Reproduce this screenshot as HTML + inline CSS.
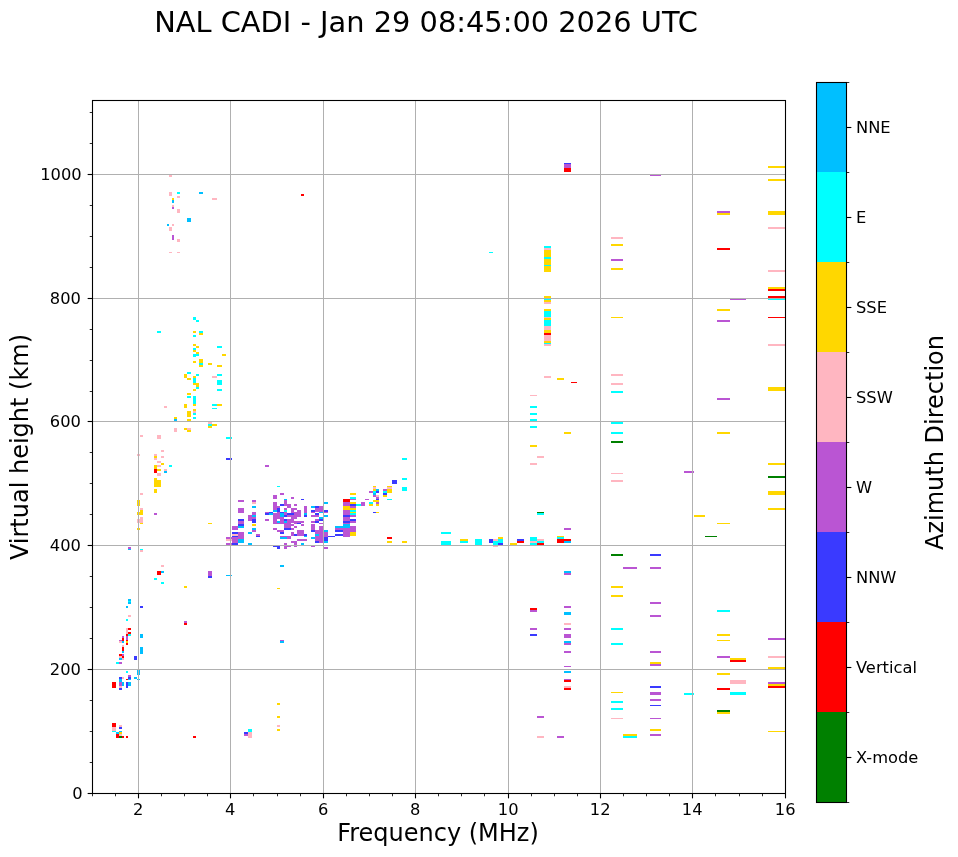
<!DOCTYPE html>
<html lang="en"><head><meta charset="utf-8"><title>NAL CADI ionogram</title>
<style>html,body{margin:0;padding:0;background:#fff}body{width:958px;height:857px;overflow:hidden}svg{display:block}text{font-family:"DejaVu Sans","Liberation Sans",sans-serif;fill:#000}</style></head><body>
<svg width="958" height="857" viewBox="0 0 958 857">
<rect width="958" height="857" fill="#fff"/>
<g shape-rendering="crispEdges">
<g fill="#ffb6c1">
<rect x="169" y="175" width="3" height="2"/>
<rect x="169" y="192" width="3" height="4"/>
<rect x="177" y="196" width="3" height="2"/>
<rect x="212" y="198" width="5" height="2"/>
<rect x="172" y="205" width="2" height="2"/>
<rect x="177" y="209" width="3" height="4"/>
<rect x="172" y="224" width="2" height="2"/>
<rect x="169" y="227" width="3" height="4"/>
<rect x="177" y="239" width="3" height="3"/>
<rect x="169" y="252" width="3" height="1"/>
<rect x="177" y="252" width="3" height="1"/>
<rect x="212" y="376" width="5" height="2"/>
<rect x="164" y="406" width="3" height="2"/>
<rect x="193" y="411" width="3" height="2"/>
<rect x="208" y="422" width="4" height="2"/>
<rect x="174" y="428" width="3" height="4"/>
<rect x="187" y="428" width="4" height="2"/>
<rect x="140" y="435" width="3" height="2"/>
<rect x="157" y="435" width="4" height="4"/>
<rect x="161" y="450" width="3" height="2"/>
<rect x="137" y="454" width="3" height="2"/>
<rect x="154" y="454" width="3" height="2"/>
<rect x="154" y="458" width="3" height="2"/>
<rect x="161" y="456" width="3" height="2"/>
<rect x="157" y="461" width="4" height="2"/>
<rect x="157" y="465" width="4" height="2"/>
<rect x="164" y="469" width="3" height="2"/>
<rect x="157" y="473" width="4" height="3"/>
<rect x="140" y="493" width="3" height="2"/>
<rect x="140" y="508" width="3" height="2"/>
<rect x="140" y="517" width="3" height="6"/>
<rect x="137" y="519" width="3" height="4"/>
<rect x="140" y="550" width="3" height="2"/>
<rect x="161" y="565" width="3" height="2"/>
<rect x="128" y="615" width="3" height="2"/>
<rect x="126" y="628" width="2" height="6"/>
<rect x="119" y="641" width="3" height="2"/>
<rect x="122" y="645" width="2" height="2"/>
<rect x="119" y="656" width="3" height="2"/>
<rect x="122" y="658" width="2" height="2"/>
<rect x="122" y="677" width="2" height="2"/>
<rect x="119" y="686" width="3" height="2"/>
<rect x="112" y="727" width="4" height="4"/>
<rect x="119" y="725" width="3" height="2"/>
<rect x="119" y="734" width="3" height="2"/>
<rect x="226" y="539" width="6" height="2"/>
<rect x="232" y="534" width="6" height="2"/>
<rect x="252" y="502" width="4" height="2"/>
<rect x="373" y="487" width="3" height="2"/>
<rect x="376" y="495" width="3" height="2"/>
<rect x="387" y="487" width="5" height="2"/>
<rect x="493" y="539" width="5" height="2"/>
<rect x="493" y="546" width="5" height="1"/>
<rect x="530" y="541" width="7" height="2"/>
<rect x="537" y="539" width="7" height="2"/>
<rect x="544" y="248" width="7" height="2"/>
<rect x="544" y="302" width="7" height="2"/>
<rect x="544" y="317" width="7" height="1"/>
<rect x="544" y="326" width="7" height="4"/>
<rect x="544" y="335" width="7" height="6"/>
<rect x="544" y="344" width="7" height="2"/>
<rect x="544" y="376" width="7" height="2"/>
<rect x="530" y="395" width="7" height="1"/>
<rect x="537" y="456" width="7" height="2"/>
<rect x="530" y="463" width="7" height="2"/>
<rect x="611" y="237" width="12" height="2"/>
<rect x="611" y="374" width="12" height="2"/>
<rect x="611" y="383" width="12" height="2"/>
<rect x="611" y="473" width="12" height="1"/>
<rect x="611" y="480" width="12" height="2"/>
<rect x="611" y="718" width="12" height="1"/>
<rect x="564" y="623" width="7" height="2"/>
<rect x="564" y="686" width="7" height="2"/>
<rect x="537" y="736" width="7" height="2"/>
<rect x="768" y="227" width="17" height="2"/>
<rect x="768" y="270" width="17" height="2"/>
<rect x="768" y="344" width="17" height="2"/>
<rect x="768" y="656" width="17" height="2"/>
<rect x="730" y="680" width="16" height="4"/>
<rect x="277" y="725" width="3" height="2"/>
<rect x="248" y="732" width="4" height="6"/>
</g>
<g fill="#00ffff">
<rect x="177" y="192" width="3" height="2"/>
<rect x="193" y="317" width="3" height="3"/>
<rect x="196" y="320" width="3" height="2"/>
<rect x="157" y="331" width="4" height="2"/>
<rect x="199" y="331" width="4" height="2"/>
<rect x="193" y="335" width="3" height="2"/>
<rect x="217" y="346" width="5" height="2"/>
<rect x="193" y="348" width="3" height="2"/>
<rect x="193" y="354" width="6" height="2"/>
<rect x="193" y="356" width="3" height="1"/>
<rect x="199" y="363" width="4" height="2"/>
<rect x="187" y="372" width="4" height="2"/>
<rect x="196" y="374" width="3" height="2"/>
<rect x="193" y="378" width="3" height="5"/>
<rect x="196" y="387" width="3" height="2"/>
<rect x="217" y="374" width="5" height="2"/>
<rect x="217" y="380" width="5" height="5"/>
<rect x="217" y="389" width="5" height="2"/>
<rect x="187" y="396" width="4" height="2"/>
<rect x="193" y="396" width="3" height="8"/>
<rect x="212" y="404" width="5" height="2"/>
<rect x="212" y="408" width="5" height="1"/>
<rect x="193" y="413" width="3" height="2"/>
<rect x="193" y="417" width="3" height="2"/>
<rect x="208" y="424" width="4" height="2"/>
<rect x="226" y="437" width="6" height="2"/>
<rect x="169" y="465" width="3" height="2"/>
<rect x="140" y="549" width="3" height="1"/>
<rect x="154" y="578" width="3" height="2"/>
<rect x="161" y="582" width="3" height="2"/>
<rect x="128" y="601" width="3" height="1"/>
<rect x="126" y="619" width="2" height="2"/>
<rect x="128" y="634" width="3" height="2"/>
<rect x="116" y="662" width="3" height="2"/>
<rect x="126" y="671" width="2" height="2"/>
<rect x="112" y="731" width="4" height="1"/>
<rect x="277" y="486" width="3" height="1"/>
<rect x="284" y="510" width="3" height="2"/>
<rect x="350" y="497" width="6" height="2"/>
<rect x="350" y="510" width="6" height="2"/>
<rect x="350" y="513" width="6" height="2"/>
<rect x="356" y="504" width="5" height="2"/>
<rect x="369" y="502" width="4" height="2"/>
<rect x="373" y="491" width="3" height="2"/>
<rect x="383" y="491" width="4" height="2"/>
<rect x="387" y="499" width="5" height="1"/>
<rect x="402" y="478" width="5" height="2"/>
<rect x="402" y="487" width="5" height="4"/>
<rect x="441" y="532" width="10" height="2"/>
<rect x="441" y="541" width="10" height="4"/>
<rect x="460" y="541" width="8" height="2"/>
<rect x="475" y="539" width="7" height="6"/>
<rect x="493" y="541" width="5" height="4"/>
<rect x="498" y="539" width="5" height="4"/>
<rect x="530" y="537" width="7" height="4"/>
<rect x="530" y="543" width="7" height="2"/>
<rect x="537" y="513" width="7" height="2"/>
<rect x="537" y="541" width="7" height="2"/>
<rect x="557" y="537" width="7" height="2"/>
<rect x="544" y="246" width="7" height="2"/>
<rect x="544" y="257" width="7" height="2"/>
<rect x="544" y="265" width="7" height="1"/>
<rect x="544" y="299" width="7" height="1"/>
<rect x="544" y="311" width="7" height="6"/>
<rect x="544" y="320" width="7" height="6"/>
<rect x="544" y="343" width="7" height="1"/>
<rect x="530" y="406" width="7" height="2"/>
<rect x="530" y="413" width="7" height="2"/>
<rect x="530" y="419" width="7" height="2"/>
<rect x="530" y="426" width="7" height="2"/>
<rect x="611" y="391" width="12" height="2"/>
<rect x="611" y="422" width="12" height="2"/>
<rect x="611" y="432" width="12" height="2"/>
<rect x="611" y="628" width="12" height="2"/>
<rect x="611" y="643" width="12" height="2"/>
<rect x="611" y="701" width="12" height="2"/>
<rect x="611" y="708" width="12" height="2"/>
<rect x="489" y="252" width="4" height="1"/>
<rect x="768" y="299" width="17" height="1"/>
<rect x="717" y="610" width="13" height="2"/>
<rect x="623" y="736" width="14" height="2"/>
<rect x="684" y="693" width="10" height="2"/>
<rect x="730" y="692" width="16" height="3"/>
<rect x="248" y="729" width="4" height="3"/>
<rect x="402" y="458" width="5" height="2"/>
</g>
<g fill="#00bfff">
<rect x="199" y="192" width="4" height="2"/>
<rect x="172" y="200" width="2" height="3"/>
<rect x="187" y="218" width="4" height="4"/>
<rect x="167" y="224" width="2" height="2"/>
<rect x="174" y="419" width="3" height="2"/>
<rect x="164" y="471" width="3" height="2"/>
<rect x="128" y="549" width="3" height="1"/>
<rect x="161" y="571" width="3" height="2"/>
<rect x="128" y="599" width="3" height="2"/>
<rect x="128" y="602" width="3" height="2"/>
<rect x="126" y="606" width="2" height="2"/>
<rect x="122" y="641" width="2" height="2"/>
<rect x="122" y="651" width="2" height="2"/>
<rect x="140" y="634" width="3" height="4"/>
<rect x="140" y="647" width="3" height="7"/>
<rect x="119" y="658" width="3" height="2"/>
<rect x="137" y="670" width="3" height="5"/>
<rect x="128" y="679" width="3" height="1"/>
<rect x="134" y="677" width="3" height="2"/>
<rect x="137" y="679" width="3" height="1"/>
<rect x="119" y="679" width="3" height="3"/>
<rect x="122" y="682" width="2" height="4"/>
<rect x="128" y="682" width="3" height="4"/>
<rect x="116" y="732" width="3" height="2"/>
<rect x="119" y="731" width="3" height="1"/>
<rect x="226" y="575" width="6" height="1"/>
<rect x="238" y="526" width="6" height="2"/>
<rect x="238" y="539" width="6" height="4"/>
<rect x="248" y="532" width="4" height="2"/>
<rect x="248" y="543" width="4" height="2"/>
<rect x="252" y="506" width="4" height="2"/>
<rect x="252" y="515" width="4" height="2"/>
<rect x="252" y="528" width="4" height="2"/>
<rect x="269" y="513" width="4" height="2"/>
<rect x="273" y="510" width="4" height="2"/>
<rect x="277" y="521" width="3" height="2"/>
<rect x="280" y="513" width="4" height="4"/>
<rect x="280" y="537" width="7" height="2"/>
<rect x="284" y="499" width="3" height="1"/>
<rect x="284" y="521" width="3" height="2"/>
<rect x="301" y="543" width="3" height="2"/>
<rect x="304" y="513" width="3" height="2"/>
<rect x="304" y="536" width="3" height="1"/>
<rect x="311" y="506" width="4" height="2"/>
<rect x="311" y="537" width="4" height="2"/>
<rect x="315" y="534" width="4" height="2"/>
<rect x="319" y="512" width="4" height="1"/>
<rect x="319" y="517" width="4" height="2"/>
<rect x="323" y="502" width="5" height="2"/>
<rect x="323" y="515" width="5" height="2"/>
<rect x="323" y="530" width="5" height="2"/>
<rect x="323" y="541" width="5" height="2"/>
<rect x="280" y="565" width="4" height="2"/>
<rect x="335" y="526" width="8" height="2"/>
<rect x="343" y="524" width="7" height="4"/>
<rect x="373" y="493" width="3" height="2"/>
<rect x="376" y="489" width="3" height="2"/>
<rect x="564" y="541" width="7" height="2"/>
<rect x="564" y="571" width="7" height="2"/>
<rect x="564" y="612" width="7" height="3"/>
<rect x="564" y="641" width="7" height="2"/>
<rect x="564" y="671" width="7" height="2"/>
<rect x="280" y="641" width="4" height="2"/>
</g>
<g fill="#ffd700">
<rect x="172" y="198" width="2" height="2"/>
<rect x="193" y="331" width="3" height="2"/>
<rect x="199" y="333" width="4" height="2"/>
<rect x="193" y="344" width="3" height="2"/>
<rect x="196" y="346" width="3" height="2"/>
<rect x="193" y="350" width="3" height="2"/>
<rect x="196" y="352" width="3" height="2"/>
<rect x="222" y="354" width="4" height="2"/>
<rect x="193" y="361" width="3" height="2"/>
<rect x="199" y="359" width="4" height="4"/>
<rect x="199" y="365" width="4" height="2"/>
<rect x="208" y="363" width="4" height="2"/>
<rect x="217" y="365" width="5" height="2"/>
<rect x="184" y="374" width="3" height="4"/>
<rect x="187" y="378" width="4" height="2"/>
<rect x="193" y="376" width="3" height="2"/>
<rect x="193" y="383" width="3" height="2"/>
<rect x="196" y="383" width="3" height="4"/>
<rect x="193" y="389" width="3" height="2"/>
<rect x="187" y="393" width="4" height="2"/>
<rect x="193" y="404" width="3" height="2"/>
<rect x="184" y="404" width="3" height="4"/>
<rect x="217" y="404" width="5" height="2"/>
<rect x="193" y="409" width="3" height="2"/>
<rect x="187" y="411" width="4" height="6"/>
<rect x="174" y="417" width="3" height="2"/>
<rect x="187" y="419" width="4" height="2"/>
<rect x="212" y="424" width="5" height="2"/>
<rect x="208" y="426" width="4" height="2"/>
<rect x="184" y="428" width="3" height="2"/>
<rect x="187" y="430" width="4" height="2"/>
<rect x="154" y="456" width="3" height="2"/>
<rect x="161" y="463" width="3" height="2"/>
<rect x="154" y="465" width="3" height="4"/>
<rect x="157" y="469" width="4" height="2"/>
<rect x="154" y="478" width="3" height="9"/>
<rect x="157" y="480" width="4" height="7"/>
<rect x="154" y="489" width="3" height="4"/>
<rect x="137" y="500" width="3" height="6"/>
<rect x="140" y="510" width="3" height="5"/>
<rect x="137" y="512" width="3" height="3"/>
<rect x="140" y="523" width="3" height="1"/>
<rect x="208" y="523" width="4" height="1"/>
<rect x="137" y="528" width="3" height="2"/>
<rect x="184" y="586" width="3" height="2"/>
<rect x="126" y="641" width="2" height="2"/>
<rect x="119" y="732" width="3" height="2"/>
<rect x="252" y="524" width="4" height="2"/>
<rect x="343" y="506" width="7" height="4"/>
<rect x="350" y="493" width="6" height="2"/>
<rect x="350" y="502" width="6" height="2"/>
<rect x="350" y="508" width="6" height="2"/>
<rect x="350" y="512" width="6" height="1"/>
<rect x="350" y="532" width="6" height="4"/>
<rect x="369" y="504" width="4" height="2"/>
<rect x="373" y="486" width="3" height="1"/>
<rect x="373" y="489" width="3" height="2"/>
<rect x="373" y="500" width="6" height="2"/>
<rect x="376" y="504" width="3" height="2"/>
<rect x="376" y="512" width="3" height="1"/>
<rect x="383" y="495" width="4" height="2"/>
<rect x="387" y="486" width="5" height="1"/>
<rect x="387" y="489" width="5" height="4"/>
<rect x="387" y="541" width="5" height="2"/>
<rect x="402" y="541" width="5" height="2"/>
<rect x="460" y="539" width="8" height="2"/>
<rect x="498" y="537" width="5" height="2"/>
<rect x="510" y="543" width="7" height="2"/>
<rect x="557" y="536" width="7" height="1"/>
<rect x="611" y="586" width="12" height="2"/>
<rect x="611" y="595" width="12" height="2"/>
<rect x="544" y="250" width="7" height="7"/>
<rect x="544" y="259" width="7" height="6"/>
<rect x="544" y="266" width="7" height="6"/>
<rect x="544" y="296" width="7" height="2"/>
<rect x="544" y="300" width="7" height="2"/>
<rect x="544" y="309" width="7" height="2"/>
<rect x="544" y="318" width="7" height="2"/>
<rect x="544" y="330" width="7" height="3"/>
<rect x="544" y="341" width="7" height="2"/>
<rect x="557" y="378" width="7" height="2"/>
<rect x="564" y="432" width="7" height="2"/>
<rect x="530" y="445" width="7" height="2"/>
<rect x="611" y="244" width="12" height="2"/>
<rect x="611" y="268" width="12" height="2"/>
<rect x="611" y="317" width="12" height="1"/>
<rect x="611" y="692" width="12" height="1"/>
<rect x="717" y="213" width="13" height="2"/>
<rect x="768" y="166" width="17" height="2"/>
<rect x="768" y="179" width="17" height="2"/>
<rect x="768" y="211" width="17" height="4"/>
<rect x="717" y="309" width="13" height="2"/>
<rect x="768" y="287" width="17" height="2"/>
<rect x="717" y="432" width="13" height="2"/>
<rect x="694" y="515" width="11" height="2"/>
<rect x="768" y="387" width="17" height="4"/>
<rect x="768" y="463" width="17" height="2"/>
<rect x="768" y="491" width="17" height="4"/>
<rect x="768" y="508" width="17" height="2"/>
<rect x="717" y="523" width="13" height="1"/>
<rect x="650" y="662" width="11" height="2"/>
<rect x="717" y="634" width="13" height="2"/>
<rect x="717" y="640" width="13" height="1"/>
<rect x="730" y="658" width="16" height="2"/>
<rect x="650" y="729" width="11" height="2"/>
<rect x="623" y="734" width="14" height="2"/>
<rect x="717" y="673" width="13" height="2"/>
<rect x="717" y="712" width="13" height="2"/>
<rect x="768" y="667" width="17" height="2"/>
<rect x="768" y="684" width="17" height="2"/>
<rect x="768" y="731" width="17" height="1"/>
<rect x="277" y="588" width="3" height="1"/>
<rect x="277" y="703" width="3" height="2"/>
<rect x="277" y="716" width="3" height="2"/>
<rect x="277" y="729" width="3" height="2"/>
</g>
<g fill="#ba55d3">
<rect x="172" y="207" width="2" height="2"/>
<rect x="172" y="235" width="2" height="5"/>
<rect x="238" y="500" width="6" height="2"/>
<rect x="154" y="513" width="3" height="2"/>
<rect x="128" y="547" width="3" height="2"/>
<rect x="208" y="571" width="4" height="5"/>
<rect x="184" y="621" width="3" height="2"/>
<rect x="122" y="636" width="2" height="2"/>
<rect x="126" y="636" width="2" height="4"/>
<rect x="119" y="640" width="3" height="1"/>
<rect x="122" y="654" width="2" height="2"/>
<rect x="119" y="662" width="3" height="2"/>
<rect x="128" y="675" width="3" height="2"/>
<rect x="119" y="682" width="3" height="4"/>
<rect x="226" y="537" width="6" height="2"/>
<rect x="226" y="543" width="6" height="2"/>
<rect x="232" y="526" width="6" height="4"/>
<rect x="232" y="537" width="6" height="6"/>
<rect x="238" y="508" width="6" height="5"/>
<rect x="238" y="521" width="6" height="3"/>
<rect x="238" y="532" width="6" height="7"/>
<rect x="248" y="515" width="4" height="6"/>
<rect x="252" y="500" width="4" height="2"/>
<rect x="252" y="512" width="4" height="3"/>
<rect x="252" y="517" width="4" height="2"/>
<rect x="252" y="530" width="4" height="2"/>
<rect x="256" y="534" width="4" height="2"/>
<rect x="265" y="512" width="4" height="1"/>
<rect x="265" y="519" width="4" height="2"/>
<rect x="273" y="495" width="4" height="4"/>
<rect x="273" y="502" width="4" height="8"/>
<rect x="273" y="513" width="4" height="11"/>
<rect x="273" y="528" width="4" height="2"/>
<rect x="277" y="506" width="3" height="2"/>
<rect x="277" y="512" width="3" height="7"/>
<rect x="277" y="523" width="3" height="1"/>
<rect x="277" y="530" width="7" height="2"/>
<rect x="280" y="493" width="4" height="2"/>
<rect x="280" y="517" width="4" height="7"/>
<rect x="280" y="536" width="11" height="1"/>
<rect x="284" y="500" width="3" height="6"/>
<rect x="284" y="508" width="3" height="2"/>
<rect x="284" y="512" width="3" height="3"/>
<rect x="284" y="523" width="3" height="5"/>
<rect x="284" y="543" width="3" height="6"/>
<rect x="287" y="504" width="4" height="4"/>
<rect x="287" y="515" width="4" height="2"/>
<rect x="287" y="519" width="4" height="9"/>
<rect x="287" y="536" width="4" height="3"/>
<rect x="291" y="497" width="3" height="2"/>
<rect x="291" y="508" width="3" height="5"/>
<rect x="291" y="515" width="3" height="8"/>
<rect x="291" y="524" width="3" height="2"/>
<rect x="291" y="528" width="3" height="2"/>
<rect x="291" y="532" width="3" height="4"/>
<rect x="291" y="541" width="6" height="2"/>
<rect x="294" y="504" width="3" height="2"/>
<rect x="294" y="508" width="3" height="2"/>
<rect x="294" y="512" width="3" height="7"/>
<rect x="294" y="521" width="10" height="2"/>
<rect x="294" y="523" width="3" height="1"/>
<rect x="294" y="526" width="3" height="2"/>
<rect x="294" y="541" width="3" height="6"/>
<rect x="297" y="510" width="4" height="7"/>
<rect x="297" y="530" width="7" height="6"/>
<rect x="297" y="539" width="10" height="2"/>
<rect x="301" y="524" width="3" height="2"/>
<rect x="304" y="506" width="3" height="7"/>
<rect x="311" y="512" width="4" height="1"/>
<rect x="311" y="515" width="8" height="2"/>
<rect x="311" y="521" width="4" height="2"/>
<rect x="311" y="524" width="4" height="6"/>
<rect x="315" y="508" width="8" height="4"/>
<rect x="315" y="519" width="4" height="2"/>
<rect x="315" y="530" width="4" height="4"/>
<rect x="315" y="536" width="4" height="5"/>
<rect x="319" y="506" width="4" height="6"/>
<rect x="319" y="523" width="4" height="1"/>
<rect x="319" y="526" width="4" height="17"/>
<rect x="323" y="512" width="5" height="1"/>
<rect x="323" y="532" width="5" height="5"/>
<rect x="287" y="546" width="4" height="1"/>
<rect x="311" y="546" width="4" height="1"/>
<rect x="324" y="547" width="4" height="2"/>
<rect x="335" y="528" width="8" height="2"/>
<rect x="343" y="502" width="7" height="4"/>
<rect x="343" y="510" width="7" height="5"/>
<rect x="343" y="517" width="7" height="4"/>
<rect x="343" y="523" width="7" height="1"/>
<rect x="343" y="528" width="7" height="9"/>
<rect x="350" y="499" width="6" height="1"/>
<rect x="350" y="506" width="6" height="2"/>
<rect x="350" y="515" width="6" height="2"/>
<rect x="350" y="521" width="6" height="2"/>
<rect x="350" y="526" width="6" height="6"/>
<rect x="361" y="502" width="4" height="4"/>
<rect x="365" y="499" width="4" height="1"/>
<rect x="369" y="491" width="4" height="2"/>
<rect x="373" y="495" width="3" height="2"/>
<rect x="376" y="497" width="3" height="2"/>
<rect x="376" y="502" width="3" height="2"/>
<rect x="383" y="489" width="4" height="2"/>
<rect x="564" y="528" width="7" height="2"/>
<rect x="564" y="573" width="7" height="2"/>
<rect x="623" y="567" width="14" height="2"/>
<rect x="611" y="259" width="12" height="2"/>
<rect x="530" y="610" width="7" height="2"/>
<rect x="530" y="628" width="7" height="2"/>
<rect x="564" y="606" width="7" height="2"/>
<rect x="564" y="628" width="7" height="2"/>
<rect x="564" y="634" width="7" height="4"/>
<rect x="564" y="643" width="7" height="2"/>
<rect x="564" y="651" width="7" height="2"/>
<rect x="564" y="666" width="7" height="1"/>
<rect x="564" y="679" width="7" height="1"/>
<rect x="537" y="716" width="7" height="2"/>
<rect x="557" y="736" width="7" height="2"/>
<rect x="564" y="164" width="7" height="4"/>
<rect x="650" y="175" width="11" height="1"/>
<rect x="717" y="211" width="13" height="2"/>
<rect x="717" y="320" width="13" height="2"/>
<rect x="730" y="299" width="16" height="1"/>
<rect x="717" y="398" width="13" height="2"/>
<rect x="684" y="471" width="10" height="2"/>
<rect x="650" y="567" width="11" height="2"/>
<rect x="650" y="602" width="11" height="2"/>
<rect x="650" y="615" width="11" height="2"/>
<rect x="650" y="651" width="11" height="2"/>
<rect x="650" y="664" width="11" height="2"/>
<rect x="717" y="656" width="13" height="2"/>
<rect x="768" y="638" width="17" height="2"/>
<rect x="650" y="692" width="11" height="3"/>
<rect x="650" y="699" width="11" height="2"/>
<rect x="650" y="718" width="11" height="1"/>
<rect x="650" y="734" width="11" height="2"/>
<rect x="768" y="682" width="17" height="2"/>
<rect x="280" y="640" width="4" height="1"/>
<rect x="244" y="734" width="4" height="2"/>
<rect x="265" y="465" width="4" height="2"/>
</g>
<g fill="#ff0000">
<rect x="301" y="194" width="3" height="2"/>
<rect x="154" y="469" width="3" height="4"/>
<rect x="157" y="571" width="4" height="4"/>
<rect x="184" y="623" width="3" height="2"/>
<rect x="128" y="628" width="3" height="2"/>
<rect x="128" y="632" width="3" height="2"/>
<rect x="126" y="634" width="2" height="2"/>
<rect x="122" y="638" width="2" height="3"/>
<rect x="126" y="640" width="2" height="1"/>
<rect x="126" y="643" width="2" height="2"/>
<rect x="122" y="647" width="2" height="4"/>
<rect x="119" y="654" width="3" height="2"/>
<rect x="122" y="656" width="2" height="2"/>
<rect x="126" y="679" width="2" height="1"/>
<rect x="112" y="682" width="4" height="6"/>
<rect x="112" y="723" width="4" height="4"/>
<rect x="116" y="734" width="3" height="4"/>
<rect x="122" y="736" width="2" height="2"/>
<rect x="126" y="736" width="2" height="2"/>
<rect x="193" y="736" width="3" height="2"/>
<rect x="343" y="499" width="7" height="3"/>
<rect x="387" y="537" width="5" height="2"/>
<rect x="517" y="541" width="7" height="2"/>
<rect x="537" y="543" width="7" height="2"/>
<rect x="557" y="539" width="7" height="4"/>
<rect x="564" y="539" width="7" height="2"/>
<rect x="544" y="333" width="7" height="2"/>
<rect x="571" y="382" width="6" height="1"/>
<rect x="530" y="608" width="7" height="2"/>
<rect x="564" y="680" width="7" height="2"/>
<rect x="564" y="688" width="7" height="2"/>
<rect x="564" y="168" width="7" height="4"/>
<rect x="717" y="248" width="13" height="2"/>
<rect x="768" y="289" width="17" height="2"/>
<rect x="768" y="296" width="17" height="2"/>
<rect x="768" y="317" width="17" height="1"/>
<rect x="730" y="660" width="16" height="2"/>
<rect x="717" y="688" width="13" height="2"/>
<rect x="768" y="686" width="17" height="2"/>
</g>
<g fill="#3a3aff">
<rect x="226" y="458" width="6" height="2"/>
<rect x="208" y="576" width="4" height="2"/>
<rect x="140" y="606" width="3" height="2"/>
<rect x="134" y="656" width="3" height="4"/>
<rect x="119" y="677" width="3" height="2"/>
<rect x="128" y="677" width="3" height="2"/>
<rect x="119" y="688" width="3" height="2"/>
<rect x="126" y="682" width="2" height="6"/>
<rect x="119" y="727" width="3" height="2"/>
<rect x="232" y="532" width="6" height="2"/>
<rect x="232" y="536" width="6" height="1"/>
<rect x="232" y="543" width="6" height="2"/>
<rect x="238" y="519" width="6" height="2"/>
<rect x="238" y="524" width="6" height="2"/>
<rect x="252" y="519" width="4" height="4"/>
<rect x="256" y="536" width="4" height="1"/>
<rect x="265" y="513" width="4" height="2"/>
<rect x="269" y="512" width="4" height="1"/>
<rect x="277" y="508" width="3" height="4"/>
<rect x="280" y="504" width="4" height="2"/>
<rect x="280" y="512" width="4" height="1"/>
<rect x="280" y="532" width="4" height="2"/>
<rect x="284" y="515" width="3" height="2"/>
<rect x="284" y="519" width="3" height="2"/>
<rect x="284" y="528" width="7" height="2"/>
<rect x="287" y="513" width="7" height="2"/>
<rect x="294" y="534" width="3" height="2"/>
<rect x="297" y="523" width="4" height="1"/>
<rect x="301" y="499" width="3" height="1"/>
<rect x="304" y="515" width="3" height="2"/>
<rect x="304" y="534" width="3" height="2"/>
<rect x="311" y="510" width="4" height="2"/>
<rect x="311" y="530" width="4" height="2"/>
<rect x="315" y="506" width="4" height="2"/>
<rect x="315" y="513" width="4" height="2"/>
<rect x="315" y="521" width="4" height="2"/>
<rect x="315" y="541" width="4" height="2"/>
<rect x="319" y="519" width="4" height="2"/>
<rect x="323" y="510" width="5" height="2"/>
<rect x="323" y="537" width="5" height="4"/>
<rect x="328" y="536" width="7" height="1"/>
<rect x="273" y="546" width="4" height="1"/>
<rect x="277" y="546" width="3" height="3"/>
<rect x="335" y="530" width="8" height="2"/>
<rect x="335" y="534" width="8" height="2"/>
<rect x="343" y="515" width="7" height="2"/>
<rect x="343" y="521" width="7" height="2"/>
<rect x="350" y="504" width="6" height="2"/>
<rect x="350" y="519" width="6" height="2"/>
<rect x="373" y="512" width="3" height="1"/>
<rect x="376" y="491" width="3" height="2"/>
<rect x="376" y="499" width="3" height="1"/>
<rect x="383" y="493" width="4" height="2"/>
<rect x="392" y="480" width="5" height="4"/>
<rect x="489" y="539" width="4" height="4"/>
<rect x="498" y="543" width="5" height="2"/>
<rect x="517" y="539" width="7" height="2"/>
<rect x="530" y="634" width="7" height="2"/>
<rect x="564" y="163" width="7" height="1"/>
<rect x="650" y="554" width="11" height="2"/>
<rect x="650" y="686" width="11" height="2"/>
<rect x="650" y="705" width="11" height="1"/>
<rect x="244" y="732" width="4" height="2"/>
</g>
<g fill="#008000">
<rect x="119" y="736" width="3" height="2"/>
<rect x="537" y="512" width="7" height="1"/>
<rect x="611" y="554" width="12" height="2"/>
<rect x="611" y="441" width="12" height="2"/>
<rect x="768" y="476" width="17" height="2"/>
<rect x="705" y="536" width="12" height="1"/>
<rect x="717" y="710" width="13" height="2"/>
</g>
</g>
<g stroke="#b0b0b0" stroke-width="1" fill="none" shape-rendering="crispEdges">
<line x1="138.5" y1="100.5" x2="138.5" y2="793.5"/>
<line x1="230.5" y1="100.5" x2="230.5" y2="793.5"/>
<line x1="323.5" y1="100.5" x2="323.5" y2="793.5"/>
<line x1="415.5" y1="100.5" x2="415.5" y2="793.5"/>
<line x1="508.5" y1="100.5" x2="508.5" y2="793.5"/>
<line x1="600.5" y1="100.5" x2="600.5" y2="793.5"/>
<line x1="692.5" y1="100.5" x2="692.5" y2="793.5"/>
<line x1="785.5" y1="100.5" x2="785.5" y2="793.5"/>
<line x1="92.5" y1="793.5" x2="785.5" y2="793.5"/>
<line x1="92.5" y1="669.5" x2="785.5" y2="669.5"/>
<line x1="92.5" y1="545.5" x2="785.5" y2="545.5"/>
<line x1="92.5" y1="421.5" x2="785.5" y2="421.5"/>
<line x1="92.5" y1="298.5" x2="785.5" y2="298.5"/>
<line x1="92.5" y1="174.5" x2="785.5" y2="174.5"/>
</g>
<g stroke="#000" stroke-width="1.11" fill="none">
<line x1="138.5" y1="793.5" x2="138.5" y2="798.36"/>
<line x1="230.5" y1="793.5" x2="230.5" y2="798.36"/>
<line x1="323.5" y1="793.5" x2="323.5" y2="798.36"/>
<line x1="415.5" y1="793.5" x2="415.5" y2="798.36"/>
<line x1="508.5" y1="793.5" x2="508.5" y2="798.36"/>
<line x1="600.5" y1="793.5" x2="600.5" y2="798.36"/>
<line x1="692.5" y1="793.5" x2="692.5" y2="798.36"/>
<line x1="785.5" y1="793.5" x2="785.5" y2="798.36"/>
<line x1="87.64" y1="793.5" x2="92.5" y2="793.5"/>
<line x1="87.64" y1="669.5" x2="92.5" y2="669.5"/>
<line x1="87.64" y1="545.5" x2="92.5" y2="545.5"/>
<line x1="87.64" y1="421.5" x2="92.5" y2="421.5"/>
<line x1="87.64" y1="298.5" x2="92.5" y2="298.5"/>
<line x1="87.64" y1="174.5" x2="92.5" y2="174.5"/>
</g>
<g stroke="#000" stroke-width="0.83" fill="none">
<line x1="92.5" y1="793.5" x2="92.5" y2="796.28"/>
<line x1="115.5" y1="793.5" x2="115.5" y2="796.28"/>
<line x1="161.5" y1="793.5" x2="161.5" y2="796.28"/>
<line x1="184.5" y1="793.5" x2="184.5" y2="796.28"/>
<line x1="207.5" y1="793.5" x2="207.5" y2="796.28"/>
<line x1="253.5" y1="793.5" x2="253.5" y2="796.28"/>
<line x1="277.5" y1="793.5" x2="277.5" y2="796.28"/>
<line x1="300.5" y1="793.5" x2="300.5" y2="796.28"/>
<line x1="346.5" y1="793.5" x2="346.5" y2="796.28"/>
<line x1="369.5" y1="793.5" x2="369.5" y2="796.28"/>
<line x1="392.5" y1="793.5" x2="392.5" y2="796.28"/>
<line x1="438.5" y1="793.5" x2="438.5" y2="796.28"/>
<line x1="461.5" y1="793.5" x2="461.5" y2="796.28"/>
<line x1="484.5" y1="793.5" x2="484.5" y2="796.28"/>
<line x1="531.5" y1="793.5" x2="531.5" y2="796.28"/>
<line x1="554.5" y1="793.5" x2="554.5" y2="796.28"/>
<line x1="577.5" y1="793.5" x2="577.5" y2="796.28"/>
<line x1="623.5" y1="793.5" x2="623.5" y2="796.28"/>
<line x1="646.5" y1="793.5" x2="646.5" y2="796.28"/>
<line x1="669.5" y1="793.5" x2="669.5" y2="796.28"/>
<line x1="715.5" y1="793.5" x2="715.5" y2="796.28"/>
<line x1="739.5" y1="793.5" x2="739.5" y2="796.28"/>
<line x1="762.5" y1="793.5" x2="762.5" y2="796.28"/>
<line x1="89.72" y1="762.5" x2="92.5" y2="762.5"/>
<line x1="89.72" y1="731.5" x2="92.5" y2="731.5"/>
<line x1="89.72" y1="700.5" x2="92.5" y2="700.5"/>
<line x1="89.72" y1="638.5" x2="92.5" y2="638.5"/>
<line x1="89.72" y1="607.5" x2="92.5" y2="607.5"/>
<line x1="89.72" y1="576.5" x2="92.5" y2="576.5"/>
<line x1="89.72" y1="514.5" x2="92.5" y2="514.5"/>
<line x1="89.72" y1="483.5" x2="92.5" y2="483.5"/>
<line x1="89.72" y1="452.5" x2="92.5" y2="452.5"/>
<line x1="89.72" y1="391.5" x2="92.5" y2="391.5"/>
<line x1="89.72" y1="360.5" x2="92.5" y2="360.5"/>
<line x1="89.72" y1="329.5" x2="92.5" y2="329.5"/>
<line x1="89.72" y1="267.5" x2="92.5" y2="267.5"/>
<line x1="89.72" y1="236.5" x2="92.5" y2="236.5"/>
<line x1="89.72" y1="205.5" x2="92.5" y2="205.5"/>
<line x1="89.72" y1="143.5" x2="92.5" y2="143.5"/>
<line x1="89.72" y1="112.5" x2="92.5" y2="112.5"/>
</g>
<rect x="92.5" y="100.5" width="693.0" height="693.0" fill="none" stroke="#000" stroke-width="1.1"/>
<g font-size="16.3" text-anchor="middle">
<text x="138.2" y="814.7">2</text>
<text x="230.2" y="814.7">4</text>
<text x="323.2" y="814.7">6</text>
<text x="415.2" y="814.7">8</text>
<text x="508.2" y="814.7">10</text>
<text x="600.2" y="814.7">12</text>
<text x="692.2" y="814.7">14</text>
<text x="785.2" y="814.7">16</text>
</g>
<g font-size="16.3" text-anchor="end">
<text x="82.7" y="798.95">0</text>
<text x="80.9" y="674.95">200</text>
<text x="80.9" y="550.95">400</text>
<text x="80.9" y="426.95">600</text>
<text x="80.9" y="303.95">800</text>
<text x="81.7" y="179.95">1000</text>
</g>
<text x="438" y="841.4" font-size="24" text-anchor="middle">Frequency (MHz)</text>
<text transform="translate(27.5 447) rotate(-90)" font-size="24" text-anchor="middle">Virtual height (km)</text>
<text x="426.1" y="31.8" font-size="28.85" text-anchor="middle">NAL CADI - Jan 29 08:45:00 2026 UTC</text>
<g shape-rendering="crispEdges">
<rect x="816.5" y="712" width="30.0" height="90" fill="#008000"/>
<rect x="816.5" y="622" width="30.0" height="90" fill="#ff0000"/>
<rect x="816.5" y="532" width="30.0" height="90" fill="#3a3aff"/>
<rect x="816.5" y="442" width="30.0" height="90" fill="#ba55d3"/>
<rect x="816.5" y="352" width="30.0" height="90" fill="#ffb6c1"/>
<rect x="816.5" y="262" width="30.0" height="90" fill="#ffd700"/>
<rect x="816.5" y="172" width="30.0" height="90" fill="#00ffff"/>
<rect x="816.5" y="82" width="30.0" height="90" fill="#00bfff"/>
</g>
<rect x="816.5" y="82.5" width="30.0" height="720.0" fill="none" stroke="#000" stroke-width="1.1"/>
<g stroke="#000" stroke-width="1.11">
<line x1="846.5" y1="757.5" x2="851.36" y2="757.5"/>
<line x1="846.5" y1="667.5" x2="851.36" y2="667.5"/>
<line x1="846.5" y1="577.5" x2="851.36" y2="577.5"/>
<line x1="846.5" y1="487.5" x2="851.36" y2="487.5"/>
<line x1="846.5" y1="397.5" x2="851.36" y2="397.5"/>
<line x1="846.5" y1="307.5" x2="851.36" y2="307.5"/>
<line x1="846.5" y1="217.5" x2="851.36" y2="217.5"/>
<line x1="846.5" y1="127.5" x2="851.36" y2="127.5"/>
</g><g stroke="#000" stroke-width="0.83">
<line x1="846.5" y1="802.5" x2="849.28" y2="802.5"/>
<line x1="846.5" y1="712.5" x2="849.28" y2="712.5"/>
<line x1="846.5" y1="622.5" x2="849.28" y2="622.5"/>
<line x1="846.5" y1="532.5" x2="849.28" y2="532.5"/>
<line x1="846.5" y1="442.5" x2="849.28" y2="442.5"/>
<line x1="846.5" y1="352.5" x2="849.28" y2="352.5"/>
<line x1="846.5" y1="262.5" x2="849.28" y2="262.5"/>
<line x1="846.5" y1="172.5" x2="849.28" y2="172.5"/>
<line x1="846.5" y1="82.5" x2="849.28" y2="82.5"/>
</g>
<g font-size="16.3">
<text x="856.0" y="763.35">X-mode</text>
<text x="856.0" y="673.35">Vertical</text>
<text x="856.0" y="583.35">NNW</text>
<text x="856.0" y="493.35">W</text>
<text x="856.0" y="403.35">SSW</text>
<text x="856.0" y="313.35">SSE</text>
<text x="856.0" y="223.35">E</text>
<text x="856.0" y="133.35">NNE</text>
</g>
<text transform="translate(942.5 442.5) rotate(-90)" font-size="24" text-anchor="middle">Azimuth Direction</text>
</svg></body></html>
